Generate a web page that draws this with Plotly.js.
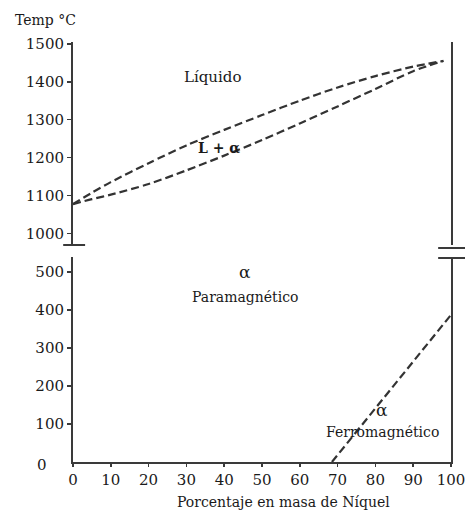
<!DOCTYPE html>
<html>
<head>
<meta charset="utf-8">
<script src="https://cdn.plot.ly/plotly-3.0.1.min.js"></script>
<style>html,body{margin:0;padding:0;background:#fff;}#chart{width:472px;height:510px;}</style>
</head>
<body>
<div id="chart"></div>
<script>
// Ni mass percent
const niPct = [0, 5, 10, 20, 30, 40, 50, 60, 70, 80, 90, 98];
// Liquidus temperature (°C)
const liquidus = [1077, 1107, 1135, 1185, 1232, 1273, 1312, 1350, 1385, 1415, 1440, 1455];
// Solidus temperature (°C)
const solidus = [1077, 1090, 1102, 1130, 1166, 1205, 1246, 1290, 1335, 1381, 1428, 1455];
// Curie temperature line
const curieNi = [68.5, 100];
const curieT = [0, 387];
// Tick labels
const xTicks = [0, 10, 20, 30, 40, 50, 60, 70, 80, 90, 100];
const upperTicks = [1000, 1100, 1200, 1300, 1400, 1500];
const lowerTicks = [100, 200, 300, 400, 500];

const FONT = 'DejaVu Serif';
const LINEC = '#3a3a3a';
const TXT = '#1a1a1a';

const lineStyle = {color: '#333333', width: 2.2, dash: '8px,4px', shape: 'spline', smoothing: 0.8};

const traces = [
  {x: niPct, y: liquidus, xaxis: 'x', yaxis: 'y2', mode: 'lines', line: lineStyle, hoverinfo: 'skip'},
  {x: niPct, y: solidus, xaxis: 'x', yaxis: 'y2', mode: 'lines', line: lineStyle, hoverinfo: 'skip'},
  {x: curieNi, y: curieT, xaxis: 'x', yaxis: 'y', mode: 'lines', line: {color: '#333333', width: 2.2, dash: '8px,4px'}, hoverinfo: 'skip'}
];

const axisCommon = {
  showline: true, linecolor: LINEC, linewidth: 2, mirror: true,
  ticks: 'outside', ticklen: 4, tickwidth: 1.5, tickcolor: LINEC,
  showgrid: false, zeroline: false,
  tickfont: {family: FONT, size: 15, color: TXT}
};

const layout = {
  width: 472, height: 510,
  margin: {l: 73, r: 21, t: 42, b: 48},
  paper_bgcolor: '#fff', plot_bgcolor: '#fff',
  showlegend: false,
  font: {family: FONT, color: TXT},
  xaxis: {
    range: [0, 100], tickvals: xTicks, anchor: 'y',
    showline: true, linecolor: LINEC, linewidth: 2,
    ticks: 'outside', ticklen: 3, tickwidth: 1.5, tickcolor: LINEC,
    showgrid: false, zeroline: false,
    tickfont: {family: FONT, size: 15, color: TXT}
  },
  yaxis: Object.assign({}, axisCommon, {
    domain: [0, 0.488], range: [0, 539], tickvals: lowerTicks, anchor: 'x'
  }),
  yaxis2: Object.assign({}, axisCommon, {
    domain: [0.5167, 1], range: [969, 1505], tickvals: upperTicks, anchor: 'x'
  }),
  shapes: [
    {type: 'line', xref: 'paper', yref: 'paper', x0: -0.026, x1: 0.032, y0: 0.5167, y1: 0.5167, line: {color: LINEC, width: 2}},
    {type: 'line', xref: 'paper', yref: 'paper', x0: 0.966, x1: 1.037, y0: 0.5095, y1: 0.5095, line: {color: LINEC, width: 2}},
    {type: 'line', xref: 'paper', yref: 'paper', x0: 0.966, x1: 1.037, y0: 0.4857, y1: 0.4857, line: {color: LINEC, width: 2}}
  ],
  annotations: [
    {text: 'Temp °C', xref: 'paper', yref: 'paper', x: -0.16, y: 1.052, xanchor: 'left', yanchor: 'middle', showarrow: false, font: {family: FONT, size: 14, color: TXT}},
    {text: '0', xref: 'paper', yref: 'paper', x: -0.082, y: -0.007, xanchor: 'center', yanchor: 'middle', showarrow: false, font: {family: FONT, size: 15, color: TXT}},
    {text: 'Porcentaje en masa de Níquel', xref: 'paper', yref: 'paper', x: 0.556, y: -0.095, xanchor: 'center', yanchor: 'middle', showarrow: false, font: {family: FONT, size: 14, color: TXT}},
    {text: 'Líquido', xref: 'x', yref: 'y2', x: 37, y: 1412, xanchor: 'center', yanchor: 'middle', showarrow: false, font: {family: FONT, size: 15, color: TXT}},
    {text: '<b>L + α</b>', xref: 'x', yref: 'y2', x: 38.5, y: 1226, xanchor: 'center', yanchor: 'middle', showarrow: false, font: {family: FONT, size: 14, color: TXT}},
    {text: 'α', xref: 'x', yref: 'y', x: 45.5, y: 500, xanchor: 'center', yanchor: 'middle', showarrow: false, font: {family: FONT, size: 17, color: TXT}},
    {text: 'Paramagnético', xref: 'x', yref: 'y', x: 45.5, y: 433, xanchor: 'center', yanchor: 'middle', showarrow: false, font: {family: FONT, size: 14, color: TXT}},
    {text: 'α', xref: 'x', yref: 'y', x: 81.8, y: 137, xanchor: 'center', yanchor: 'middle', showarrow: false, font: {family: FONT, size: 17, color: TXT}},
    {text: 'Ferromagnético', xref: 'x', yref: 'y', x: 82, y: 78, xanchor: 'center', yanchor: 'middle', showarrow: false, font: {family: FONT, size: 14, color: TXT}}
  ]
};

Plotly.newPlot('chart', traces, layout, {displayModeBar: false, staticPlot: true});
</script>
</body>
</html>
